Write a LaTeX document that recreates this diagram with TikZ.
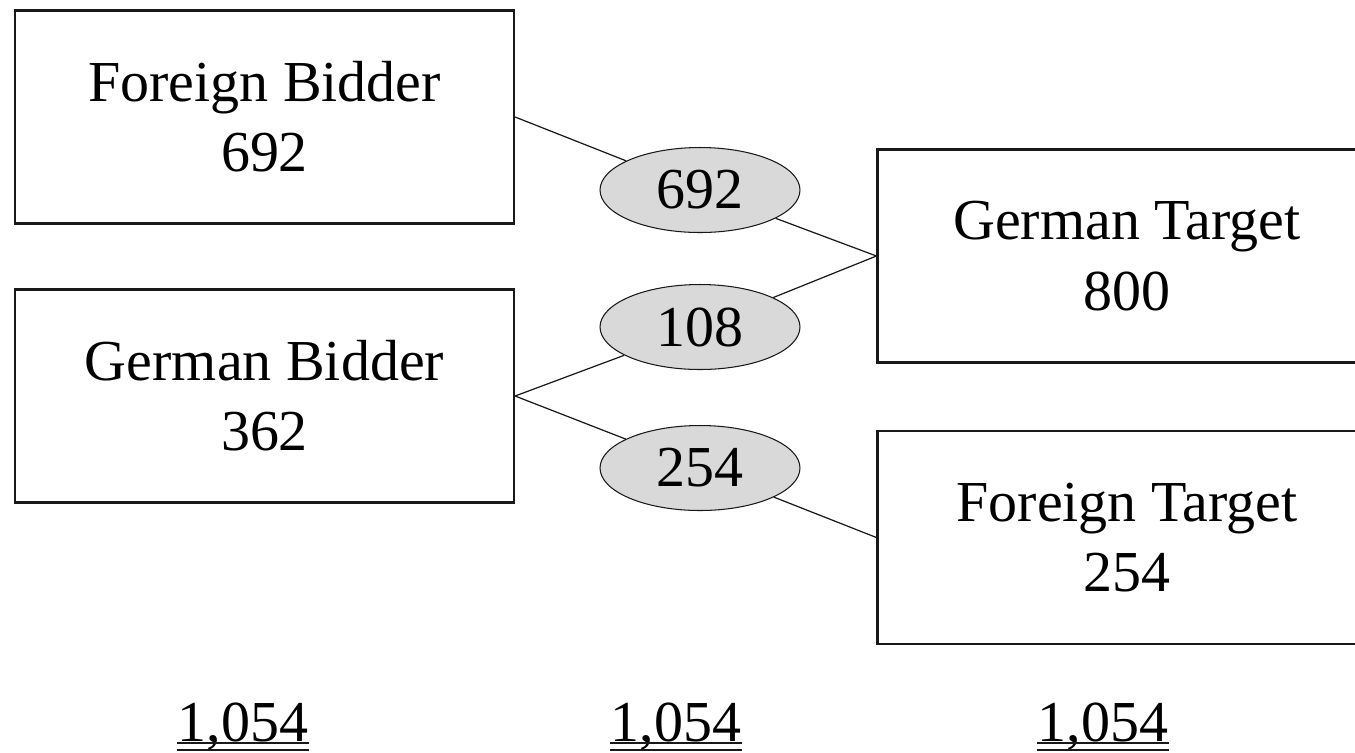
\documentclass[tikz,border=0pt]{standalone}
\usepackage{fontspec}
\setmainfont{Liberation Serif}
\usepackage{tikz}
\usetikzlibrary{positioning, shapes.geometric}
\definecolor{mainBlack}{gray}{0.1}
\definecolor{flowGray}{gray}{0.85}

\tikzset{
    party/.style={draw=mainBlack, line width=1.3pt, fill=white, align=center,
        minimum width=9.98cm, minimum height=4.26cm, inner sep=0pt},
    flow/.style={ellipse, draw=mainBlack, line width=0.6pt, fill=flowGray,
        minimum width=4cm, minimum height=1.7cm, inner sep=0pt},
    link/.style={draw=mainBlack, line width=0.7pt},
}

\begin{document}
\begin{tikzpicture}[x=0.02cm, y=-0.02cm, font=\fontsize{33}{40}\selectfont]
    \clip (0,0) rectangle (1355,752);

    % Bidders and targets
    \node[party] (fb) at (264.5,117) {Foreign Bidder\\692};
    \node[party] (gb) at (264.5,396) {German Bidder\\362};
    \node[party] (gt) at (1127,256) {German Target\\800};
    \node[party] (ft) at (1127,537.5) {Foreign Target\\254};

    % Deal flows
    \node[flow] (e692) at (700,190) {692};
    \node[flow] (e108) at (700,327) {108};
    \node[flow] (e254) at (700,468) {254};

    \draw[link] (fb.east) -- (e692) -- (gt.west);
    \draw[link] (gb.east) -- (e108) -- (gt.west);
    \draw[link] (gb.east) -- (e254) -- (ft.west);

    % Totals
    \foreach \name/\x in {tb/243, tf/676, tt/1103} {
        \node[inner sep=0pt, anchor=base] (\name) at (\x,741) {1,054};
        \draw[mainBlack, line width=1.1pt] ([yshift=-1.2pt]\name.base west) -- ([yshift=-1.2pt]\name.base east);
        \draw[mainBlack, line width=1.1pt] ([yshift=-5pt]\name.base west) -- ([yshift=-5pt]\name.base east);
    }
\end{tikzpicture}
\end{document}
